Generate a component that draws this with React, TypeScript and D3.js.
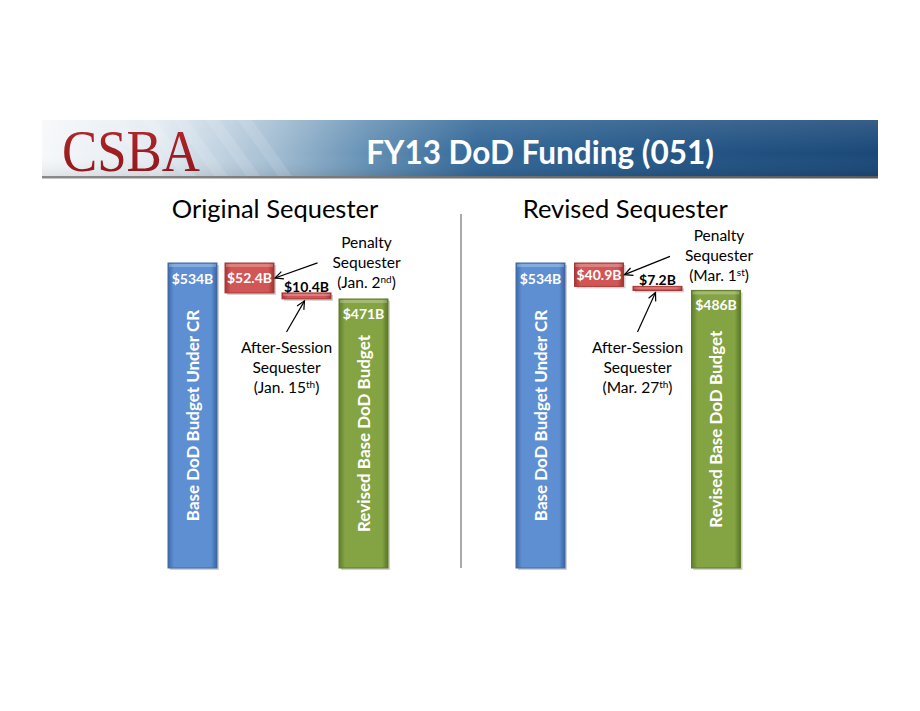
import * as React from 'react';
import * as d3 from 'd3';

// values in $B
const scenarios = ['Original Sequester', 'Revised Sequester'];
const baseBudget = [534, 534];
const penaltySeq = [52.4, 40.9];
const afterSessionSeq = [10.4, 7.2];
const revisedBudget = [471, 486];
const penaltyDates = [['Jan. 2', 'nd'], ['Mar. 1', 'st']];
const afterDates = [['Jan. 15', 'th'], ['Mar. 27', 'th']];
const steps = ['base', 'penalty', 'after', 'revised'];
const baseLabel = 'Base DoD Budget Under CR';
const revisedLabel = 'Revised Base DoD Budget';

const W = 920;
const H = 711;
const FONT = 'Lato, "Open Sans", sans-serif';

const y = d3.scaleLinear().domain([0, 534]).range([568, 263]);
const chartX = d3.scaleOrdinal<string, number>().domain(scenarios).range([168, 516]);

const fmt = (v: number) => '$' + (Number.isInteger(v) ? d3.format('d')(v) : d3.format('.1f')(v)) + 'B';

const colors: Record<string, [string, string, string]> = {
  blue: ['#3e6aa6', '#5e8fd3', '#3a64a0'],
  red: ['#a83636', '#d25656', '#a03232'],
  green: ['#5f7d2a', '#84a343', '#5a7626'],
};

const Bar = ({ x, y0, y1, w, c }: { x: number; y0: number; y1: number; w: number; c: string }) => {
  const top = Math.min(y0, y1);
  const h = Math.abs(y1 - y0);
  return (
    <g>
      <rect x={x + 2} y={top + 2} width={w} height={h} fill="#000" opacity={0.18} />
      <rect x={x} y={top} width={w} height={h} fill={`url(#g-${c})`} stroke={colors[c][0]} strokeWidth={1} />
      <rect x={x + 1} y={top + 1} width={w - 2} height={Math.min(3, h / 3)} fill="#fff" opacity={0.25} />
    </g>
  );
};

const Chart = ({ i }: { i: number }) => {
  const name = scenarios[i];
  const x0 = chartX(name);
  const bwTarget = 49;
  const step = i === 0 ? 57 : 58.5;
  const x = d3
    .scaleBand()
    .domain(steps)
    .range([x0, x0 + 3 * step + bwTarget])
    .paddingInner((step - bwTarget) / step)
    .paddingOuter(0);
  const bw = x.bandwidth();
  const base = baseBudget[i];
  const afterPenalty = base - penaltySeq[i];
  const afterAll = afterPenalty - afterSessionSeq[i];
  const rev = revisedBudget[i];

  const cx = (k: string) => (x(k) as number) + bw / 2;

  // penalty annotation
  const penX = cx('revised') + 3;
  const penBase = y(afterPenalty) - 5;
  const penLines = [penBase - 40, penBase - 20, penBase];
  const penStart: [number, number] = [penX - 49, penLines[1] - 5];
  const penEnd: [number, number] = [(x('penalty') as number) + bw + 1, (y(base) + y(afterPenalty)) / 2];

  // after-session annotation
  const aftX = cx('after') - 20;
  const aftLines = [353, 373, 393];
  const aftStart: [number, number] = [aftX, 332];
  const aftEnd: [number, number] = [cx('after') - 2, y(afterAll) + 2];

  const arrow = (s: [number, number], e: [number, number]) => {
    const ang = Math.atan2(e[1] - s[1], e[0] - s[0]);
    const L = 9;
    const a = 0.45;
    const p1 = [e[0] - L * Math.cos(ang - a), e[1] - L * Math.sin(ang - a)];
    const p2 = [e[0] - L * Math.cos(ang + a), e[1] - L * Math.sin(ang + a)];
    return (
      <g stroke="#000" strokeWidth={1.2} fill="none">
        <line x1={s[0]} y1={s[1]} x2={e[0]} y2={e[1]} />
        <polyline points={`${p1[0]},${p1[1]} ${e[0]},${e[1]} ${p2[0]},${p2[1]}`} />
      </g>
    );
  };

  const valStyle = { fontFamily: FONT, fontWeight: 700, fontSize: 14 } as const;

  return (
    <g>
      <text x={(x0 + (x('revised') as number) + bw) / 2 - 3} y={218} textAnchor="middle" fontFamily={FONT} fontSize={25.5} fill="#000">
        {name}
      </text>

      <Bar x={x('base') as number} y0={y(0)} y1={y(base)} w={bw} c="blue" />
      <Bar x={x('penalty') as number} y0={y(base)} y1={y(afterPenalty)} w={bw} c="red" />
      <Bar x={x('after') as number} y0={y(afterPenalty)} y1={y(afterAll)} w={bw} c="red" />
      <Bar x={x('revised') as number} y0={y(0)} y1={y(rev)} w={bw} c="green" />

      <text x={cx('base')} y={y(base) + 21} textAnchor="middle" fill="#fff" {...valStyle}>{fmt(base)}</text>
      <text x={cx('penalty')} y={(y(base) + y(afterPenalty)) / 2 + 5} textAnchor="middle" fill="#fff" {...valStyle}>{fmt(penaltySeq[i])}</text>
      <text x={cx('after')} y={y(afterPenalty) - 1} textAnchor="middle" fill="#000" {...valStyle}>{fmt(afterSessionSeq[i])}</text>
      <text x={cx('revised')} y={y(rev) + 20} textAnchor="middle" fill="#fff" {...valStyle}>{fmt(rev)}</text>

      <text transform={`translate(${cx('base') + 6},${(y(0) + y(base)) / 2}) rotate(-90)`} textAnchor="middle" fill="#fff" fontFamily={FONT} fontWeight={700} fontSize={17}>
        {baseLabel}
      </text>
      <text transform={`translate(${cx('revised') + 6},${(y(0) + y(rev)) / 2}) rotate(-90)`} textAnchor="middle" fill="#fff" fontFamily={FONT} fontWeight={700} fontSize={17}>
        {revisedLabel}
      </text>

      <g fontFamily={FONT} fontSize={15.5} fill="#000" textAnchor="middle">
        <text x={penX} y={penLines[0]}>Penalty</text>
        <text x={penX} y={penLines[1]}>Sequester</text>
        <text x={penX} y={penLines[2]}>
          ({penaltyDates[i][0]}
          <tspan dy={-5} fontSize={10}>{penaltyDates[i][1]}</tspan>
          <tspan dy={5}>)</tspan>
        </text>
        <text x={aftX} y={aftLines[0]}>After-Session</text>
        <text x={aftX} y={aftLines[1]}>Sequester</text>
        <text x={aftX} y={aftLines[2]}>
          ({afterDates[i][0]}
          <tspan dy={-5} fontSize={10}>{afterDates[i][1]}</tspan>
          <tspan dy={5}>)</tspan>
        </text>
      </g>
      {arrow(penStart, penEnd)}
      {arrow(aftStart, aftEnd)}
    </g>
  );
};

export default function App() {
  const streaks = d3.range(5).map((k) => 110 + k * 32);
  return (
    <svg width={W} height={H} style={{ position: 'absolute', left: 0, top: 0, background: '#fff' }}>
      <defs>
        <linearGradient id="banner" x1="0" x2="1" y1="0" y2="0">
          <stop offset="0" stopColor="#f6f8fa" />
          <stop offset="0.14" stopColor="#e2eaf1" />
          <stop offset="0.27" stopColor="#a7c0d4" />
          <stop offset="0.39" stopColor="#6490b4" />
          <stop offset="0.52" stopColor="#336898" />
          <stop offset="0.75" stopColor="#245686" />
          <stop offset="1" stopColor="#1a4878" />
        </linearGradient>
        <linearGradient id="bannerShade" x1="0" x2="0" y1="0" y2="1">
          <stop offset="0" stopColor="#fff" stopOpacity={0.12} />
          <stop offset="0.6" stopColor="#fff" stopOpacity={0} />
          <stop offset="1" stopColor="#000" stopOpacity={0.08} />
        </linearGradient>
        <linearGradient id="rule" x1="0" x2="1">
          <stop offset="0" stopColor="#8a8a8a" />
          <stop offset="1" stopColor="#5a5a5a" />
        </linearGradient>
        <linearGradient id="logo" x1="0" x2="0" y1="0" y2="1">
          <stop offset="0" stopColor="#b52a2e" />
          <stop offset="1" stopColor="#8c1317" />
        </linearGradient>
        {Object.keys(colors).map((c) => (
          <linearGradient key={c} id={`g-${c}`} x1="0" x2="1">
            <stop offset="0" stopColor={colors[c][0]} />
            <stop offset="0.12" stopColor={colors[c][1]} />
            <stop offset="0.88" stopColor={colors[c][1]} />
            <stop offset="1" stopColor={colors[c][2]} />
          </linearGradient>
        ))}
      </defs>

      {/* header banner */}
      <rect x={42} y={120} width={836} height={56} fill="url(#banner)" />
      <rect x={42} y={120} width={836} height={56} fill="url(#bannerShade)" />
      {streaks.map((s) => (
        <polygon key={s} points={`${s},120 ${s + 14},120 ${s + 54},176 ${s + 40},176`} fill="#fff" opacity={0.12} />
      ))}
      <rect x={42} y={176} width={836} height={2.5} fill="url(#rule)" />
      <text x={62} y={171} fontFamily='"Liberation Serif", "DejaVu Serif", serif' fontSize={60} fill="url(#logo)" textLength={138} lengthAdjust="spacingAndGlyphs">
        CSBA
      </text>
      <text x={540} y={164} textAnchor="middle" fontFamily={FONT} fontWeight={700} fontSize={31.5} fill="#fff">
        FY13 DoD Funding (051)
      </text>

      {/* divider */}
      <line x1={461} x2={461} y1={214} y2={y(0)} stroke="#555" strokeWidth={1} />

      {scenarios.map((s, i) => (
        <Chart key={s} i={i} />
      ))}
    </svg>
  );
}
